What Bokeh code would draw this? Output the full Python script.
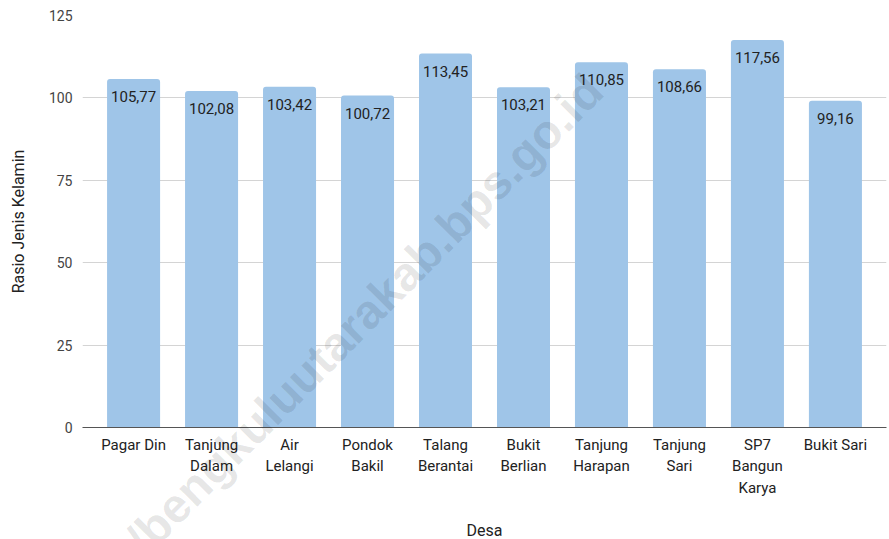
from bokeh.plotting import figure
from bokeh.models import FactorRange, Range1d, ColumnDataSource, Label, LabelSet, FixedTicker
from bokeh.core.properties import value
from bokeh.embed import file_html
from bokeh.resources import INLINE

desa = ["Pagar Din", "Tanjung\nDalam", "Air\nLelangi", "Pondok\nBakil", "Talang\nBerantai",
        "Bukit\nBerlian", "Tanjung\nHarapan", "Tanjung\nSari", "SP7\nBangun\nKarya", "Bukit Sari"]
rasio = [105.77, 102.08, 103.42, 100.72, 113.45, 103.21, 110.85, 108.66, 117.56, 99.16]
rasio_label = ["105,77", "102,08", "103,42", "100,72", "113,45", "103,21", "110,85", "108,66", "117,56", "99,16"]
y_ticks = [0, 25, 50, 75, 100, 125]
watermark = "/bengkuluutarakab.bps.go.id"

src = ColumnDataSource(dict(desa=desa, rasio=rasio, lab=rasio_label))

p = figure(frame_width=804, frame_height=412, output_backend="svg", toolbar_location=None,
           x_range=FactorRange(*desa, range_padding=0.031), y_range=Range1d(0, 125),
           min_border_left=82, min_border_right=3, min_border_top=15, min_border_bottom=0)
p.outline_line_color = None
p.background_fill_color = "white"

p.vbar(x="desa", top="rasio", width=0.68, source=src, fill_color="#9fc5e8",
       line_color=None, border_radius=(3, 3, 0, 0))

# axes
p.xaxis.axis_label = "Desa"
p.yaxis.axis_label = "Rasio Jenis Kelamin"
for ax in (p.xaxis[0], p.yaxis[0]):
    ax.major_tick_line_color = None
    ax.minor_tick_line_color = None
    ax.major_tick_out = 0
    ax.major_tick_in = 0
    ax.axis_label_text_font = "Roboto"
    ax.axis_label_text_font_size = "16px"
    ax.axis_label_text_font_style = "normal"
    ax.axis_label_text_color = "#222222"
    ax.major_label_text_font = "Roboto"
p.xaxis.axis_line_color = "#555555"
p.xaxis.major_label_text_font_size = "15px"
p.xaxis.major_label_text_color = "#222222"
p.xaxis.major_label_standoff = 8
p.xaxis.axis_label_standoff = 21
p.yaxis.axis_line_color = None
p.yaxis.ticker = FixedTicker(ticks=y_ticks)
p.yaxis.major_label_text_font_size = "14px"
p.yaxis.major_label_text_color = "#444444"
p.yaxis.major_label_standoff = 10
p.yaxis.axis_label_standoff = 18

p.xgrid.grid_line_color = None
p.ygrid.grid_line_color = "#d4d4d4"
p.ygrid.grid_line_width = 1
p.ygrid.ticker = FixedTicker(ticks=y_ticks)

wm = Label(x=6.41, y=104.7, text=watermark, angle=0.79,
           text_align="right", text_baseline="middle", text_font="Liberation Sans",
           text_font_style="bold", text_font_size="48px", text_color="#000000",
           text_alpha=0.1)
p.add_layout(wm, "below")

labels = LabelSet(x="desa", y="rasio", text="lab", source=src, text_align="center",
                  text_baseline="top", y_offset=-12, text_font=value("Roboto"),
                  text_font_size="15px", text_color="#222222")
p.add_layout(labels)

open("out.html", "w").write(file_html(p, INLINE))
